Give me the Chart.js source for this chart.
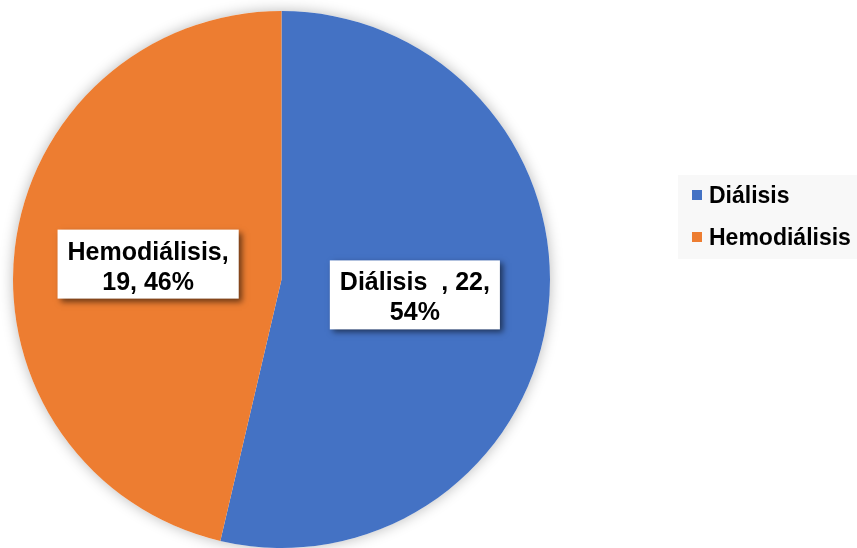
<!DOCTYPE html>
<html>
<head>
<meta charset="utf-8">
<script src="https://cdn.jsdelivr.net/npm/chart.js@4.4.0/dist/chart.umd.min.js"></script>
<style>
    html, body { margin: 0; padding: 0; background: #ffffff; }
    #wrap { width: 857px; height: 548px; position: relative; }
</style>
</head>
<body>
<div id="wrap"><canvas id="pieChart"></canvas></div>
<script>
// ===== DATA =====
const categories = ['Diálisis  ', 'Hemodiálisis'];
const counts = [22, 19];
const percents = [54, 46];
const sliceColors = ['#4472C4', '#ED7D31'];

const FONT = '"Liberation Sans", Arial, sans-serif';

// ===== PIE SHADOW =====
const pieShadow = {
    id: 'pieShadow',
    beforeDatasetsDraw(chart) {
        const arc = chart.getDatasetMeta(0).data[0];
        if (!arc) return;
        const ctx = chart.ctx;
        ctx.save();
        ctx.shadowColor = 'rgba(0, 0, 0, 0.28)';
        ctx.shadowBlur = 14;
        ctx.fillStyle = '#ffffff';
        ctx.beginPath();
        ctx.arc(arc.x, arc.y, arc.outerRadius, 0, Math.PI * 2);
        ctx.fill();
        ctx.restore();
    }
};

// ===== DATA LABELS (boxes) =====
function wrapParts(ctx, parts, maxWidth) {
    const lines = [];
    let line = parts[0];
    for (let i = 1; i < parts.length; i++) {
        const test = line + ', ' + parts[i];
        if (ctx.measureText(test).width > maxWidth) {
            lines.push(line + ',');
            line = parts[i];
        } else {
            line = test;
        }
    }
    lines.push(line);
    return lines;
}

const boxLabels = {
    id: 'boxLabels',
    afterDatasetsDraw(chart) {
        const ctx = chart.ctx;
        const meta = chart.getDatasetMeta(0);
        ctx.save();
        ctx.font = 'bold 25px ' + FONT;
        meta.data.forEach((arc, i) => {
            const pos = arc.tooltipPosition();
            const lines = wrapParts(ctx, [categories[i], String(counts[i]), percents[i] + '%'], 170);
            const lh = 30;
            const w = Math.max(...lines.map(l => ctx.measureText(l).width)) + 20;
            const h = lines.length * lh + 9;
            const x = pos.x - w / 2;
            const y = pos.y - h / 2;

            ctx.save();
            ctx.shadowColor = 'rgba(0, 0, 0, 0.55)';
            ctx.shadowBlur = 6;
            ctx.shadowOffsetX = 3;
            ctx.shadowOffsetY = 3;
            ctx.fillStyle = '#ffffff';
            ctx.fillRect(x, y, w, h);
            ctx.restore();

            ctx.fillStyle = '#000000';
            ctx.textAlign = 'center';
            ctx.textBaseline = 'alphabetic';
            lines.forEach((l, k) => {
                ctx.fillText(l, pos.x, y + 4 + (k + 1) * lh - 4);
            });
        });
        ctx.restore();
    }
};

// ===== LEGEND =====
const sideLegend = {
    id: 'sideLegend',
    afterDraw(chart) {
        const ctx = chart.ctx;
        ctx.save();
        ctx.fillStyle = '#f8f8f8';
        ctx.fillRect(678, 175, 179, 84);
        ctx.font = 'bold 23px ' + FONT;
        ctx.textBaseline = 'alphabetic';
        ctx.textAlign = 'left';
        chart.data.labels.forEach((lab, i) => {
            const base = 203 + i * 42;
            ctx.fillStyle = sliceColors[i];
            ctx.fillRect(692, base - 13, 10, 10);
            ctx.fillStyle = '#000000';
            ctx.fillText(lab.trim(), 709, base);
        });
        ctx.restore();
    }
};

// ===== CHART =====
const chart = new Chart(document.getElementById('pieChart'), {
    type: 'pie',
    data: {
        labels: categories,
        datasets: [{
            data: counts,
            backgroundColor: sliceColors,
            borderWidth: 0
        }]
    },
    options: {
        responsive: true,
        maintainAspectRatio: false,
        animation: false,
        layout: {
            padding: { left: 13, top: 11, right: 307, bottom: 0 }
        },
        plugins: {
            legend: { display: false },
            tooltip: { enabled: false }
        }
    },
    plugins: [pieShadow, boxLabels, sideLegend]
});
</script>
</body>
</html>
